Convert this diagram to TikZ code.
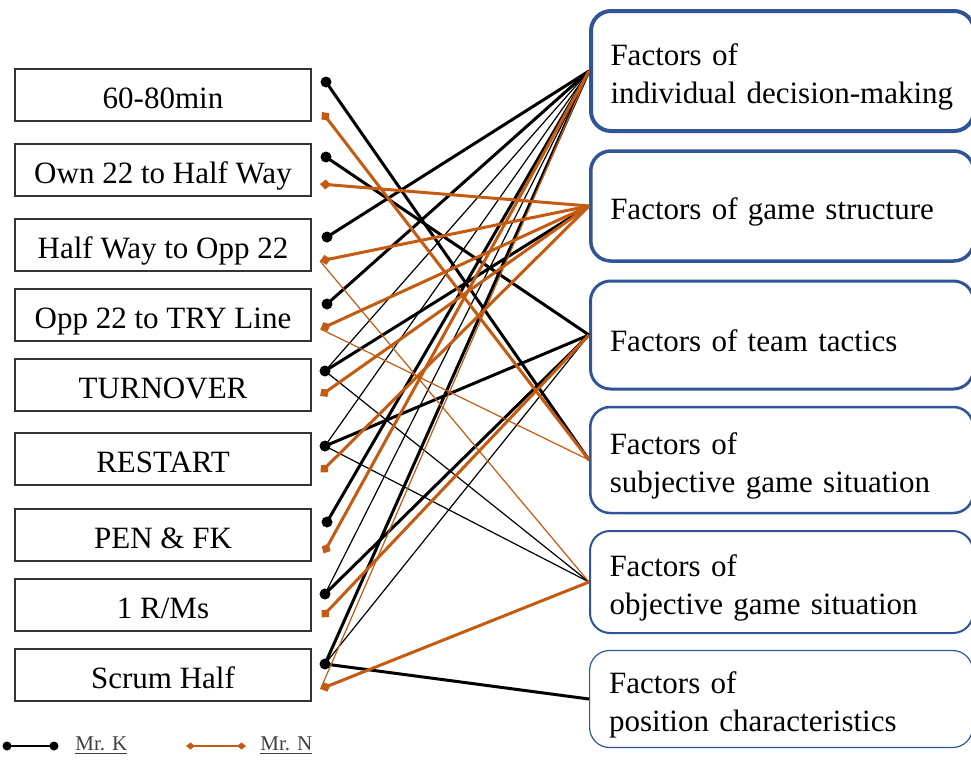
\documentclass[tikz,border=0pt]{standalone}
\usepackage{fontspec}
\setmainfont{Liberation Serif}
\usepackage{xcolor}
\usetikzlibrary{arrows.meta}

\definecolor{mrn}{RGB}{197,90,17}
\definecolor{facblue}{RGB}{47,85,151}
\definecolor{legendgray}{RGB}{64,64,64}

\begin{document}
\begin{tikzpicture}[x=0.5pt, y=-0.5pt,
  scene/.style={draw=black!80, line width=0.75pt, minimum width=148pt, minimum height=26pt, inner sep=0pt, text height=15pt, text depth=2pt, font=\fontsize{15.5}{19}\selectfont},
  factor/.style={draw=facblue, rounded corners=10pt, anchor=west, align=left, text width=172pt, inner xsep=9.75pt, font=\fontsize{15.5}{19}\selectfont, execute at begin node={\rule{0pt}{17pt}}},
  kdot/.style={circle, fill=black, inner sep=0pt, minimum size=5.5pt},
  kthick/.style={line width=1.5pt},
  kthin/.style={line width=0.6pt},
  ntip/.tip={Diamond[length=5.5pt, width=5pt]},
  nthick/.style={mrn, line width=1.5pt, ntip-},
  nthin/.style={mrn, line width=0.6pt},
  legend/.style={anchor=west, inner sep=0pt, text=legendgray, font=\fontsize{10.5}{12}\selectfont},
]
  \clip (0,0) rectangle (971,760);

  % Phases of play
  \node[scene] (s1) at (163,95)  {60-80min};
  \node[scene] (s2) at (163,170) {Own 22 to Half Way};
  \node[scene] (s3) at (163,245) {Half Way to Opp 22};
  \node[scene] (s4) at (163,315) {Opp 22 to TRY Line};
  \node[scene] (s5) at (163,385) {TURNOVER};
  \node[scene] (s6) at (163,459) {RESTART};
  \node[scene] (s7) at (163,535) {PEN \& FK};
  \node[scene] (s8) at (163,605) {1 R/Ms};
  \node[scene] (s9) at (163,675) {Scrum Half};

  % Factors
  \node[factor, line width=2pt, minimum height=60pt] (f1) at (589,71) {Factors of\\individual decision-making};
  \node[factor, line width=1.75pt, minimum height=55pt] (f2) at (589,206) {Factors of game structure};
  \node[factor, line width=1.5pt, minimum height=54pt] (f3) at (589,335) {Factors of team tactics};
  \node[factor, line width=1.25pt, minimum height=53pt] (f4) at (589,460) {Factors of\\subjective game situation};
  \node[factor, line width=1pt, minimum height=51pt] (f5) at (589,582) {Factors of\\objective game situation};
  \node[factor, line width=0.6pt, minimum height=48.5pt] (f6) at (589,699) {Factors of\\position characteristics};

  % Mr. K ends
  \coordinate (k1) at (326,82);
  \coordinate (k2) at (326,157);
  \coordinate (k3) at (327,237);
  \coordinate (k4) at (327,304);
  \coordinate (k5) at (325,371);
  \coordinate (k6) at (325,446);
  \coordinate (k7) at (327,522);
  \coordinate (k8) at (325,594);
  \coordinate (k9) at (325,664);

  % Mr. N ends
  \coordinate (n1) at (322,112);
  \coordinate (n2) at (320,184);
  \coordinate (n3) at (320,261);
  \coordinate (n4) at (320.5,329);
  \coordinate (n5) at (320,396);
  \coordinate (n6) at (320.5,472.5);
  \coordinate (n7) at (323.5,553.5);
  \coordinate (n8) at (321.5,617.5);
  \coordinate (n9) at (320.5,689);

  % Mr. K
  \draw[kthick] (k1) -- (f4.west);
  \draw[kthick] (k2) -- (f3.west);
  \draw[kthick] (k3) -- (f1.west);
  \draw[kthick] (k4) -- (f1.west);
  \draw[kthick] (k5) -- (f2.west);
  \draw[kthin] (k5) -- (f1.west);
  \draw[kthin] (k5) -- (f5.west);
  \draw[kthick] (k6) -- (f3.west);
  \draw[kthin] (k6) -- (f1.west);
  \draw[kthin] (k6) -- (f5.west);
  \draw[kthick] (k7) -- (f1.west);
  \draw[kthick] (k8) -- (f3.west);
  \draw[kthin] (k8) -- (f1.west);
  \draw[kthick] (k9) -- (f1.west);
  \draw[kthin] (k9) -- (f3.west);
  \draw[kthick] (k9) -- (f6.west);

  % Mr. N
  \draw[nthick] (n1) -- (f4.west);
  \draw[nthick] (n2) -- (f2.west);
  \draw[nthick] (n3) -- (f2.west);
  \draw[nthin] (n3) -- (f5.west);
  \draw[nthick] (n4) -- (f2.west);
  \draw[nthin] (n4) -- (f4.west);
  \draw[nthick] (n5) -- (f2.west);
  \draw[nthick] (n6) -- (f2.west);
  \draw[nthick] (n7) -- (f1.west);
  \draw[nthick] (n8) -- (f3.west);
  \draw[nthick] (n9) -- (f5.west);
  \draw[nthin] (n9) -- (f1.west);

  \foreach \i in {1,...,9}
    \node[kdot] (kd\i) at (k\i) {};

  % Legend
  \coordinate (lk1) at (7,746);
  \coordinate (lk2) at (54,746);
  \draw[line width=1.2pt] (lk1) -- (lk2);
  \node[kdot, minimum size=4.5pt] (lkd1) at (lk1) {};
  \node[kdot, minimum size=4.5pt] (lkd2) at (lk2) {};
  \node[legend] (lkt) at (75,746) {\underline{Mr. K}};

  \coordinate (ln1) at (186,746);
  \coordinate (ln2) at (246,746);
  \draw[mrn, line width=1.2pt, {Diamond[length=4.5pt, width=3.5pt]}-{Diamond[length=4.5pt, width=3.5pt]}] (ln1) -- (ln2);
  \node[legend] (lnt) at (260,746) {\underline{Mr. N}};
\end{tikzpicture}
\end{document}
